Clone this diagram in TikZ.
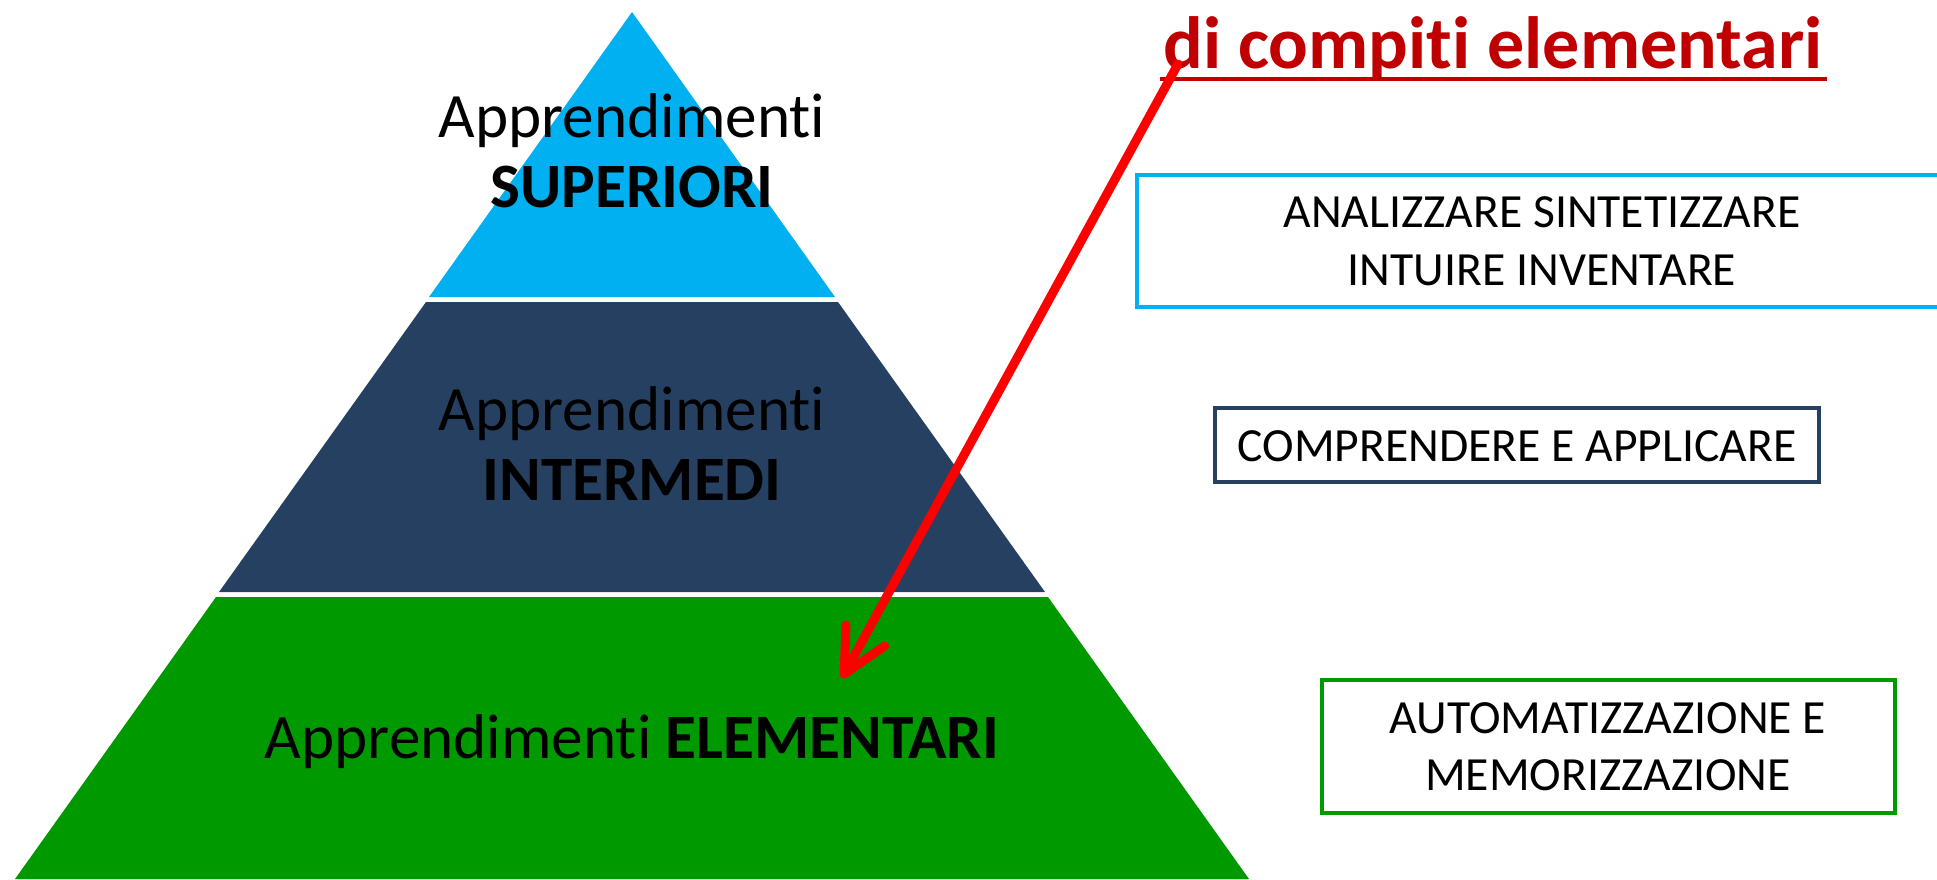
\documentclass[tikz,border=0pt]{standalone}
\usepackage{fontspec}
\setmainfont{Carlito}[Ligatures={NoCommon}]
\usetikzlibrary{arrows.meta}
\definecolor{tierblue}{HTML}{00B0F0}
\definecolor{tiernavy}{HTML}{254061}
\definecolor{tiergreen}{HTML}{009900}
\definecolor{titlered}{HTML}{C00000}
\definecolor{arrowred}{HTML}{FF0000}
\begin{document}
\begin{tikzpicture}[x=0.5pt,y=-0.5pt,
  tiertext/.style={anchor=base, inner sep=0pt, font=\fontsize{31.6}{34}\selectfont, text=black},
  boxtext/.style={anchor=base, inner sep=0pt, font=\fontsize{23.8}{28}\selectfont, text=black},
  taskbox/.style={line width=2.2pt, fill=white, inner sep=0pt, outer sep=0pt},
  ]
\useasboundingbox (0,0) rectangle (1937,879);
% pyramid tiers
\fill[tierblue]  (632,12) -- (835,297) -- (429,297) -- cycle;
\fill[tiernavy]  (426,302) -- (838,302) -- (1045,592) -- (219,592) -- cycle;
\fill[tiergreen] (216,597) -- (1048,597) -- (1249,879) -- (15,879) -- cycle;
% tier texts
\node[tiertext] (t1a) at (632,137) {Apprendimenti};
\node[tiertext] (t1b) at (632,207) {\bfseries SUPERIORI};
\node[tiertext] (t2a) at (632,430) {Apprendimenti};
\node[tiertext] (t2b) at (632,500) {\bfseries INTERMEDI};
\node[tiertext] (t3)  at (632,758) {Apprendimenti \bfseries ELEMENTARI};
% right boxes
\node[taskbox, draw=tierblue, minimum width=406.5pt, minimum height=66pt] (boxA) at (1543.5,241) {};
\node[boxtext] (boxAa) at (1542,227) {ANALIZZARE SINTETIZZARE};
\node[boxtext] (boxAb) at (1542,285) {INTUIRE INVENTARE};
\node[taskbox, draw=tiernavy, minimum width=302pt, minimum height=37pt] (boxB) at (1517,445) {};
\node[boxtext] (boxBa) at (1517,461) {COMPRENDERE E APPLICARE};
\node[taskbox, draw=tiergreen, minimum width=286.5pt, minimum height=66.5pt] (boxC) at (1608.5,746.5) {};
\node[boxtext] (boxCa) at (1608,733) {AUTOMATIZZAZIONE E};
\node[boxtext] (boxCb) at (1608,790) {MEMORIZZAZIONE};
% title
\node[anchor=base, inner sep=0pt, text=titlered, font=\bfseries\fontsize{37}{40}\selectfont] (title) at (1493,68) {di compiti elementari};
\draw[titlered, line width=2pt] ([xshift=-1.5pt,yshift=-5.5pt]title.base west) -- ([xshift=2pt,yshift=-5.5pt]title.base east);
% arrow
\coordinate (arrowstart) at (1178,64);
\coordinate (arrowtip) at (842,678);
\draw[arrowred, line width=4.5pt, line cap=round, -{Straight Barb[length=22pt,width=22pt,round]}] (arrowstart) -- (arrowtip);
\end{tikzpicture}
\end{document}
